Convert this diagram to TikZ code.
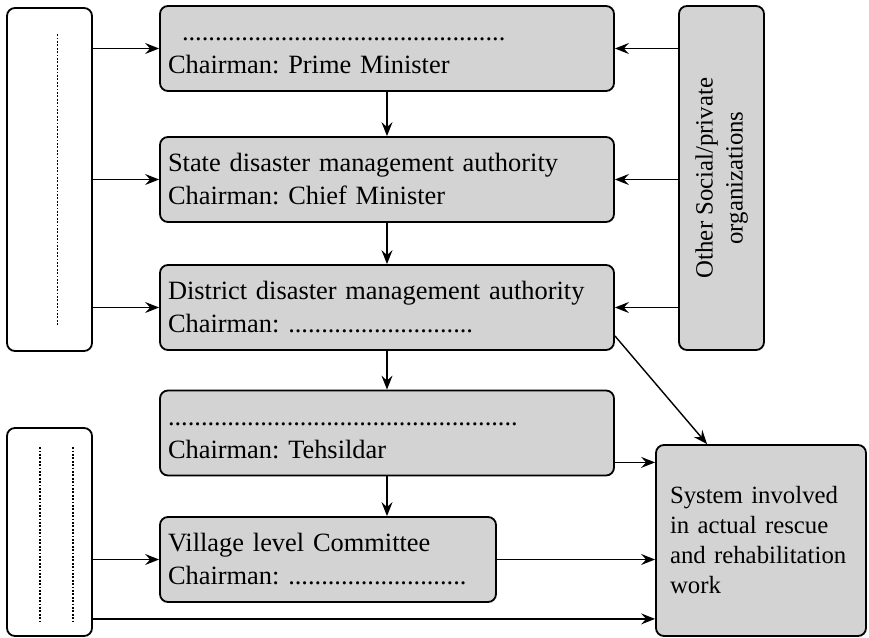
\documentclass[tikz,border=0pt]{standalone}
\usepackage{fontspec}
\setmainfont{Liberation Serif}
\usetikzlibrary{arrows.meta}
\definecolor{boxgray}{RGB}{211,211,211}
\frenchspacing
\begin{document}
\begin{tikzpicture}[x=0.5pt,y=-0.5pt,
  base/.style={draw, line width=0.9pt, rounded corners=4pt, inner ysep=0pt},
  gbox/.style={base, fill=boxgray, font=\fontsize{13.2pt}{16.5pt}\selectfont, align=left, inner xsep=4pt, text width=219pt, minimum height=42.5pt},
  wbox/.style={base, fill=white, minimum width=42.5pt},
  sidebox/.style={base, fill=boxgray, font=\fontsize{12.4pt}{15pt}\selectfont},
  arr/.style={-{Stealth[length=7pt,width=5.5pt,inset=2.5pt]}, line width=0.7pt},
  dotline/.style={line width=0.9pt, dash pattern=on 0.9pt off 0.8pt}
]
\useasboundingbox (0,0) rectangle (869,638);

% boxes
\node[wbox, minimum height=171.5pt] (L1) at (49.5,179.5) {};
\node[wbox, minimum height=104pt] (L2) at (49.5,532) {};
\node[gbox] (A) at (387,48.5) {\vphantom{Ch}\hspace*{7pt}.................................................\\Chairman: Prime Minister};
\node[gbox] (B) at (387,179.5) {State disaster management authority\\Chairman: Chief Minister};
\node[gbox] (C) at (387,307.5) {District disaster management authority\\Chairman: ............................};
\node[gbox] (D) at (387,433) {\vphantom{Ch}.....................................................\\Chairman: Tehsildar};
\node[gbox, text width=160pt] (E) at (328,559.5) {Village level Committee\\Chairman: ...........................};
\node[sidebox, minimum width=42.5pt, minimum height=172pt] (R) at (721.5,178)
  {\rotatebox{90}{\begin{tabular}{@{}c@{}}Other Social/private\\organizations\end{tabular}}};
\node[sidebox, align=left, text width=91pt, inner xsep=7pt, minimum height=95.5pt] (F) at (761,540.5)
  {System involved\\in actual rescue\\and rehabilitation\\work};

% dotted marks in the white boxes
\draw[dotline] ([xshift=4pt,yshift=-13.5pt]L1.north) -- ([xshift=4pt,yshift=13pt]L1.south);
\draw[dotline] ([xshift=-4.75pt,yshift=-10pt]L2.north) -- ([xshift=-4.75pt,yshift=8pt]L2.south);
\draw[dotline] ([xshift=11.75pt,yshift=-10pt]L2.north) -- ([xshift=11.75pt,yshift=8pt]L2.south);

% connectors
\draw[arr] (L1.east |- A.west) -- (A.west);
\draw[arr] (L1.east |- B.west) -- (B.west);
\draw[arr] (L1.east |- C.west) -- (C.west);
\draw[arr] (R.west |- A.east) -- (A.east);
\draw[arr] (R.west |- B.east) -- (B.east);
\draw[arr] (R.west |- C.east) -- (C.east);
\draw[arr] (A.south) -- (B.north);
\draw[arr] (B.south) -- (C.north);
\draw[arr] (C.south) -- (D.north);
\draw[arr] (D.south) -- (D.south |- E.north);
\coordinate (d1) at ([yshift=7pt]D.south east);
\draw[arr] (d1) -- (d1 -| F.west);
\draw[arr] (E.east) -- (E.east -| F.west);
\draw[arr] (L2.east |- E.west) -- (E.west);
\coordinate (l2) at ([yshift=9pt]L2.south east);
\draw[arr] (l2) -- (l2 -| F.west);
\coordinate (c1) at ([yshift=7.5pt]C.south east);
\coordinate (f1) at ([xshift=26pt]F.north west);
\draw[arr] (c1) -- (f1);
\end{tikzpicture}
\end{document}
